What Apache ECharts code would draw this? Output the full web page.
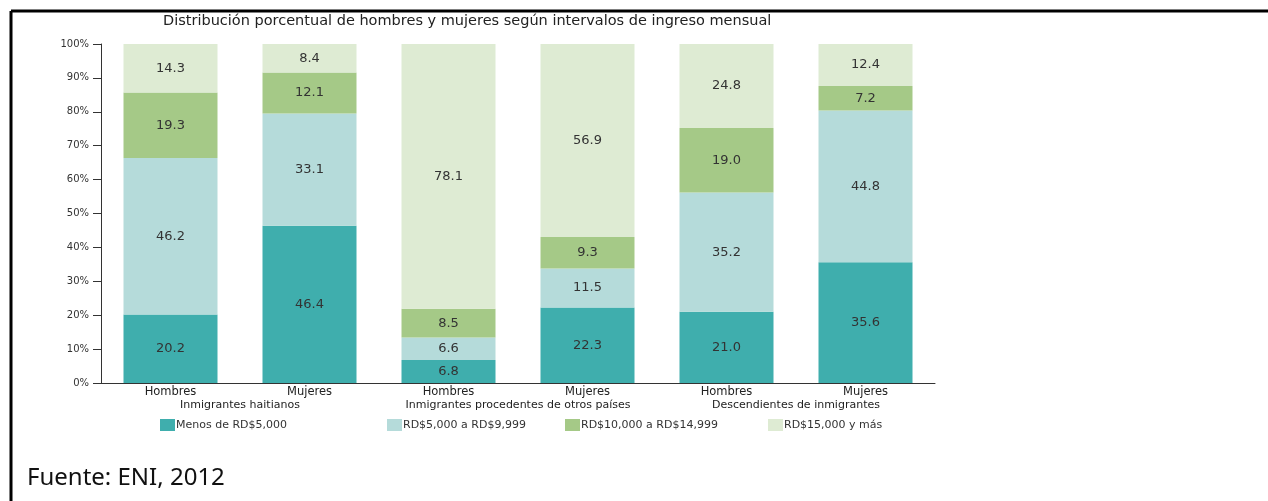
<!DOCTYPE html>
<html><head><meta charset="utf-8">
<script src="https://cdn.jsdelivr.net/npm/echarts@6/dist/echarts.min.js"></script>
<style>html,body{margin:0;padding:0;background:#fff}#c{width:1268px;height:501px}</style>
</head><body><div id="c"></div>
<script>
const categories = ['Hombres','Mujeres','Hombres','Mujeres','Hombres','Mujeres'];
const groups = ['Inmigrantes haitianos','Inmigrantes procedentes de otros países','Descendientes de inmigrantes'];
const seriesNames = ['Menos de RD$5,000','RD$5,000 a RD$9,999','RD$10,000 a RD$14,999','RD$15,000 y más'];
const menos5000 = [20.2, 46.4, 6.8, 22.3, 21.0, 35.6];
const de5000a9999 = [46.2, 33.1, 6.6, 11.5, 35.2, 44.8];
const de10000a14999 = [19.3, 12.1, 8.5, 9.3, 19.0, 7.2];
const mas15000 = [14.3, 8.4, 78.1, 56.9, 24.8, 12.4];
const yTicks = [0,10,20,30,40,50,60,70,80,90,100];

const colors = ['#3FAEAD','#B5DBDA','#A5C987','#DEEBD3'];
const values = [menos5000, de5000a9999, de10000a14999, mas15000];
const font = 'DejaVu Sans';

const chart = echarts.init(document.getElementById('c'));
chart.setOption({
  animation: false,
  textStyle: {fontFamily: font},
  title: {
    text: 'Distribución porcentual de hombres y mujeres según intervalos de ingreso mensual',
    left: 158, top: 9,
    textStyle: {fontFamily: font, fontSize: 14.5, fontWeight: 'normal', color: '#222'}
  },
  legend: seriesNames.map((n, i) => ({
    data: [n], left: [160, 387, 565, 768][i], top: 419, padding: 0,
    itemWidth: 15, itemHeight: 12, itemGap: 2,
    icon: 'rect',
    textStyle: {fontFamily: font, fontSize: 11, color: '#333', padding: [0,0,0,-4]}
  })),
  grid: {left: 101, right: 333, top: 44, bottom: 118, containLabel: false},
  xAxis: [
    {
      type: 'category', data: categories, position: 'bottom',
      axisLine: {lineStyle: {color: '#333', width: 1}},
      axisTick: {length: 7, lineStyle: {color: '#333'}},
      axisLabel: {fontFamily: font, fontSize: 11.5, color: '#222', margin: 3, interval: 0}
    },
    {
      type: 'category', data: groups, position: 'bottom', gridIndex: 0,
      axisLine: {show: false},
      axisTick: {length: 25, lineStyle: {color: '#333'}},
      axisLabel: {fontFamily: font, fontSize: 11, color: '#222', margin: 17, interval: 0, hideOverlap: false}
    }
  ],
  yAxis: {
    type: 'value', min: 0, max: 100, interval: 10,
    axisLine: {show: true, lineStyle: {color: '#333'}},
    axisTick: {show: true, length: 8, lineStyle: {color: '#333'}},
    splitLine: {show: false},
    axisLabel: {fontFamily: font, fontSize: 10, color: '#333', margin: 12,
      formatter: v => yTicks.indexOf(v) >= 0 ? v + '%' : ''}
  },
  series: seriesNames.map((n, i) => ({
    name: n, type: 'bar', stack: 'total', xAxisIndex: 0,
    barWidth: 94,
    itemStyle: {color: colors[i]},
    label: {show: true, position: 'inside', fontFamily: font, fontSize: 13, color: '#333',
      formatter: p => p.value.toFixed(1)},
    data: values[i]
  })),
  graphic: [
    {type: 'line', shape: {x1: 11, y1: 11, x2: 1268, y2: 11}, style: {stroke: '#000', lineWidth: 3}},
    {type: 'line', shape: {x1: 11, y1: 11, x2: 11, y2: 501}, style: {stroke: '#000', lineWidth: 3}},
    {type: 'text', left: 27, top: 466, style: {text: 'Fuente: ENI, 2012', font: '24px "Noto Sans"', fill: '#111'}}
  ]
});
</script></body></html>
